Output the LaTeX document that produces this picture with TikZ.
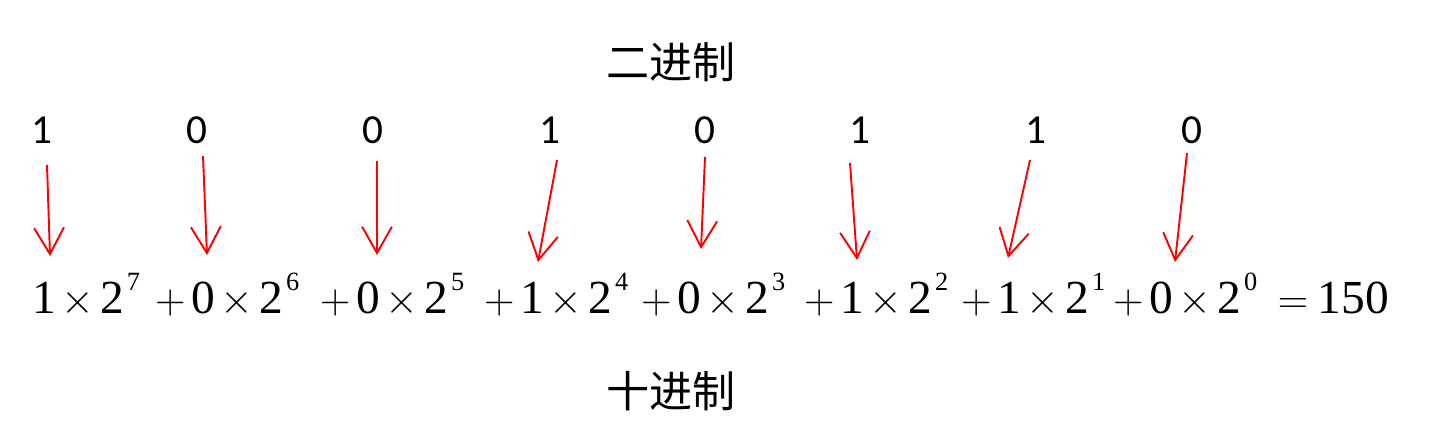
\RequirePackage{fix-cm}
\documentclass[tikz,border=0pt]{standalone}
\usepackage{fontspec}
\setmainfont{Liberation Serif}
\newfontfamily\digitfont{Carlito}
\newfontfamily\cjk{Noto Sans CJK SC}
\usetikzlibrary{positioning}
\usetikzlibrary{arrows.meta}

\newcommand{\supr}[1]{\raisebox{13pt}{\fontsize{15}{15}\selectfont #1}}
\newcommand{\plus}{{\fontsize{24}{24}\selectfont$+$}}
\newcommand{\tms}{{\fontsize{24}{24}\selectfont$\times$}}
\newcommand{\pterm}[3]{#1\kern0.12em #2\kern0.12em\tms\kern0.14em 2\kern0.05em\supr{#3}}

\tikzset{
  bit/.style={font=\digitfont\fontsize{23.5}{28}\selectfont, anchor=base, inner sep=0pt},
  term/.style={font=\fontsize{27}{32}\selectfont, anchor=base west, inner sep=0pt},
  title/.style={font=\cjk\fontsize{24.5}{30}\selectfont, inner sep=0pt},
  bitarrow/.style={draw=red, line width=1.1pt, -{Straight Barb[length=15pt,width=17pt]}}
}

\begin{document}
\begin{tikzpicture}[x=0.02cm,y=-0.02cm]
 \useasboundingbox (0,0) rectangle (1444,443);
 % titles
 \node[title] (bin) at (671,62) {二进制};
 \node[title] (dec) at (671,391) {十进制};
 % binary digits
 \node[bit] (b7) at (42,143) {1};
 \node[bit] (b6) at (197,143) {0};
 \node[bit] (b5) at (373,143) {0};
 \node[bit] (b4) at (550,143) {1};
 \node[bit] (b3) at (705,143) {0};
 \node[bit] (b2) at (860,143) {1};
 \node[bit] (b1) at (1036,143) {1};
 \node[bit] (b0) at (1192,143) {0};
 % weighted sum
 \node[term] (t7) at (26,313) {\pterm{}{1}{7}};
 \node[term] (t6) at (154.7,313) {\pterm{\plus}{0}{6}};
 \node[term] (t5) at (319.7,313) {\pterm{\plus}{0}{5}};
 \node[term] (t4) at (483.7,313) {\pterm{\plus}{1}{4}};
 \node[term] (t3) at (640.7,313) {\pterm{\plus}{0}{3}};
 \node[term] (t2) at (803.7,313) {\pterm{\plus}{1}{2}};
 \node[term] (t1) at (960.7,313) {\pterm{\plus}{1}{1}};
 \node[term] (t0) at (1112.7,313) {\pterm{\plus}{0}{0}};
 \node[term] (sum) at (1277.6,313) {{\fontsize{24}{24}\selectfont$=$}\kern0.2em 150};
 % arrow ends
 \coordinate (a7) at (47,165);   \coordinate (h7) at (50,256);
 \coordinate (a6) at (203,156);  \coordinate (h6) at (207,255);
 \coordinate (a5) at (377,161);  \coordinate (h5) at (377,255);
 \coordinate (a4) at (557,160);  \coordinate (h4) at (538,262);
 \coordinate (a3) at (705,157);  \coordinate (h3) at (701,249);
 \coordinate (a2) at (850,163);  \coordinate (h2) at (857,260);
 \coordinate (a1) at (1030,160); \coordinate (h1) at (1008,258);
 \coordinate (a0) at (1187,153); \coordinate (h0) at (1175,262);
 \draw[bitarrow] (a7) -- (h7);
 \draw[bitarrow] (a6) -- (h6);
 \draw[bitarrow] (a5) -- (h5);
 \draw[bitarrow] (a4) -- (h4);
 \draw[bitarrow] (a3) -- (h3);
 \draw[bitarrow] (a2) -- (h2);
 \draw[bitarrow] (a1) -- (h1);
 \draw[bitarrow] (a0) -- (h0);
\end{tikzpicture}
\end{document}
